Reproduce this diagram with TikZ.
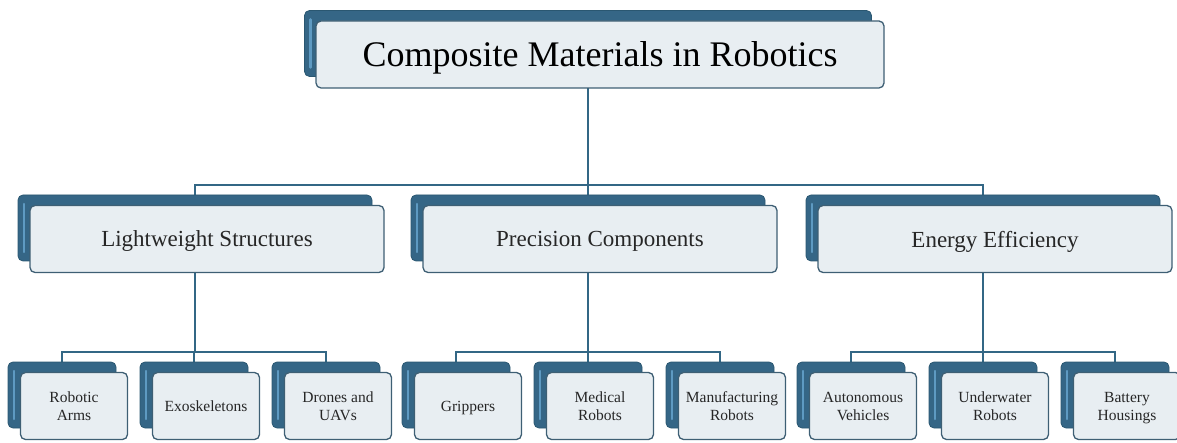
\documentclass[tikz,border=0pt]{standalone}
\usepackage{fontspec}
\setmainfont{Liberation Serif}
\usetikzlibrary{positioning,backgrounds}
\definecolor{backblue}{HTML}{356686}
\definecolor{backlight}{HTML}{5E9AC2}
\definecolor{backedge}{HTML}{2A5771}
\definecolor{frontfill}{HTML}{E8EEF2}
\definecolor{frontedge}{HTML}{3E5F74}
\definecolor{linkblue}{HTML}{336785}
\tikzset{
    backbox/.style = {draw=backedge, line width=0.8pt, rounded corners=5pt,
        fill=backblue, minimum height=66pt, inner sep=0pt,
        path picture={\draw [backlight, line width=2.5pt, line cap=round]
            ([xshift=6pt, yshift=-9pt]path picture bounding box.north west) --
            ([xshift=6pt, yshift=9pt]path picture bounding box.south west);}},
    frontbox/.style = {draw=frontedge, line width=1.3pt, rounded corners=5pt,
        fill=frontfill, minimum height=67pt, inner sep=0pt, align=center,
        text depth=0pt, text=black!85},
    link/.style = {draw=linkblue, line width=2pt},
    toptext/.style = {font=\fontsize{36}{40}\selectfont, text=black},
    midtext/.style = {font=\fontsize{23}{26}\selectfont},
    lowtext/.style = {font=\fontsize{15.5}{18}\selectfont},
}

\begin{document}
\begin{tikzpicture}[x=1pt, y=-1pt]
    \useasboundingbox (0,0) rectangle (1177,443);

    % root
    \node (root-bk) [backbox, minimum width=567pt] at (588,43.5) {};
    \node (root) [frontbox, toptext, minimum width=568pt,
        xshift=12pt, yshift=-11pt] at (root-bk) {Composite Materials in Robotics};

    % second row
    \foreach \name/\x/\label in {lw/195/Lightweight Structures,
            pc/588/Precision Components, ee/983/Energy Efficiency} {
        \node (\name-bk) [backbox, minimum width=354pt] at (\x,228) {};
        \node (\name) [frontbox, midtext, minimum width=354pt,
            xshift=12pt, yshift=-11pt] at (\name-bk) {\label};
    }

    % third row
    \foreach \name/\x/\label in {arms/62/Robotic\\Arms, exo/194/Exoskeletons,
            drone/326/Drones and\\UAVs, grip/456/Grippers,
            med/588/Medical\\Robots, manu/720/Manufacturing\\Robots,
            auto/851/Autonomous\\Vehicles, uw/983/Underwater\\Robots,
            batt/1115/Battery\\Housings} {
        \node (\name-bk) [backbox, minimum width=108pt] at (\x,395) {};
        \node (\name) [frontbox, lowtext, minimum width=107pt,
            xshift=12pt, yshift=-11pt] at (\name-bk) {\label};
    }

    % connectors
    \begin{pgfonlayer}{background}
        \foreach \kid in {lw, pc, ee}
            \draw [link] (root-bk.center) |- ([yshift=10pt]\kid-bk.north) -| (\kid-bk.center);
        \foreach \mom/\kid in {lw/arms, lw/exo, lw/drone, pc/grip, pc/med, pc/manu,
                ee/auto, ee/uw, ee/batt}
            \draw [link] (\mom-bk.center) |- ([yshift=10pt]\kid-bk.north) -| (\kid-bk.center);
    \end{pgfonlayer}
\end{tikzpicture}
\end{document}
